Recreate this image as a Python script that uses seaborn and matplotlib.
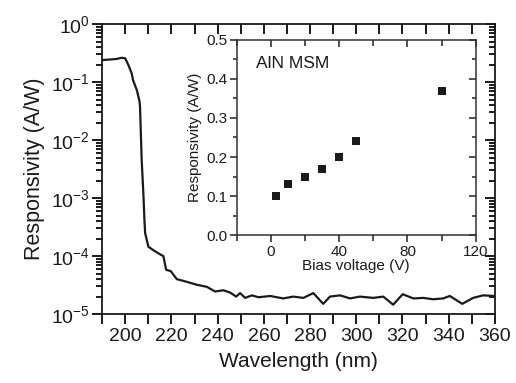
import matplotlib
matplotlib.use("Agg")
import matplotlib.pyplot as plt
import seaborn as sns
from matplotlib.ticker import FixedLocator, NullFormatter

sns.set_theme(style="ticks")
plt.rcParams['font.family'] = ['Liberation Sans', 'DejaVu Sans']
plt.rcParams['mathtext.default'] = 'regular'

# Main spectrum
wavelength = [190, 193, 196, 198.5, 200, 201.4, 202.8, 203.4, 205.0, 206.2, 206.4, 207.1,
              207.9, 208.3, 208.6, 210.0, 212.2, 215.1, 216.5, 217.7, 219.7, 222.3, 226.6,
              231.0, 235.3, 238.9, 242.5, 245.4, 248.0, 249.7, 251.9, 254.8, 257.7, 262.7,
              268.4, 272.7, 277.1, 281.4, 285.7, 288.6, 293.0, 297.3, 301.6, 307.4, 311.7,
              316.0, 320.1, 324.7, 329.0, 333.3, 337.6, 340.5, 345.9, 350.6, 354.9, 360.0]
responsivity = [0.24, 0.245, 0.25, 0.263, 0.257, 0.195, 0.141, 0.107, 0.073, 0.046, 0.037, 4.6e-3,
                1.05e-3, 4.2e-4, 2.5e-4, 1.45e-4, 1.26e-4, 1.07e-4, 1.0e-4, 5.8e-5, 5.5e-5, 4.0e-5, 3.6e-5,
                3.2e-5, 2.95e-5, 2.45e-5, 2.57e-5, 2.35e-5, 2.0e-5, 2.3e-5, 1.9e-5, 2.1e-5, 1.95e-5, 2.05e-5,
                1.86e-5, 2.0e-5, 1.9e-5, 2.3e-5, 1.5e-5, 2.0e-5, 2.1e-5, 1.86e-5, 2.0e-5, 1.9e-5, 2.0e-5,
                1.45e-5, 2.2e-5, 1.86e-5, 1.9e-5, 1.8e-5, 1.86e-5, 2.05e-5, 1.5e-5, 1.9e-5, 2.1e-5, 2.05e-5]

# Inset: responsivity vs bias
bias = [3, 10, 20, 30, 40, 50, 100]
bias_resp = [0.10, 0.13, 0.15, 0.17, 0.20, 0.24, 0.37]

x_ticks = [200, 220, 240, 260, 280, 300, 320, 340, 360]
x_minor = [190, 210, 230, 250, 270, 290, 310, 330, 350]
y_ticks = [1e-5, 1e-4, 1e-3, 1e-2, 1e-1, 1e0]
y_tick_labels = ['$10^{-5}$', '$10^{-4}$', '$10^{-3}$', '$10^{-2}$', '$10^{-1}$', '$10^{0}$']
y_minor = [m * d for d in [1e-5, 1e-4, 1e-3, 1e-2, 1e-1] for m in range(2, 10)]

in_x_ticks = [0, 40, 80, 120]
in_x_minor = [-20, 20, 60, 100]
in_y_ticks = [0.0, 0.1, 0.2, 0.3, 0.4, 0.5]
in_y_labels = ['0.0', '0.1', '0.2', '0.3', '0.4', '0.5']
in_y_minor = [0.05, 0.15, 0.25, 0.35, 0.45]

ink = '#1a1a1a'
gray = '#333333'
fig = plt.figure(figsize=(5.16, 3.83), dpi=100)


def style_ticks(ax, xmaj, xmin, ymaj, ymin, color, width, majlen, minlen, xminlen, log=False):
    """Tick marks drawn from twin axes: outward on bottom/left, inward on top/right."""
    ax.xaxis.set_major_locator(FixedLocator(xmaj))
    ax.yaxis.set_major_locator(FixedLocator(ymaj))
    ax.minorticks_off()
    ax.tick_params(which='both', length=0)
    twins = []
    for side, direction in (('top', 'in'), ('bottom', 'out')):
        t = ax.twiny()
        t.set_xlim(ax.get_xlim())
        t.xaxis.set_major_locator(FixedLocator(xmaj))
        t.xaxis.set_minor_locator(FixedLocator(xmin))
        t.xaxis.set_minor_formatter(NullFormatter())
        t.xaxis.set_ticks_position(side)
        t.tick_params(axis='x', which='both', direction=direction, color=color, width=width,
                      top=(side == 'top'), bottom=(side == 'bottom'),
                      labeltop=False, labelbottom=False)
        t.tick_params(axis='x', which='major', length=majlen)
        t.tick_params(axis='x', which='minor', length=xminlen)
        twins.append(t)
    for side, direction in (('right', 'in'), ('left', 'out')):
        t = ax.twinx()
        if log:
            t.set_yscale('log')
        t.set_ylim(ax.get_ylim())
        t.yaxis.set_major_locator(FixedLocator(ymaj))
        t.yaxis.set_minor_locator(FixedLocator(ymin))
        t.yaxis.set_minor_formatter(NullFormatter())
        t.yaxis.set_ticks_position(side)
        t.tick_params(axis='y', which='both', direction=direction, color=color, width=width,
                      right=(side == 'right'), left=(side == 'left'),
                      labelright=False, labelleft=False)
        t.tick_params(axis='y', which='major', length=majlen)
        t.tick_params(axis='y', which='minor', length=minlen)
        twins.append(t)
    for t in twins:
        t.grid(False)
        for s in t.spines.values():
            s.set_visible(False)


ax = fig.add_axes([0.198, 0.180, 0.761, 0.757])
sns.lineplot(x=wavelength, y=responsivity, ax=ax, color=ink, lw=1.6, sort=False, estimator=None)
ax.set_yscale('log')
ax.set_xlim(190, 360)
ax.set_ylim(1e-5, 1e0)
style_ticks(ax, x_ticks, x_minor, y_ticks, y_minor, ink, 1.4, 7, 4, 7, log=True)
ax.set_yticklabels(y_tick_labels)
ax.tick_params(which='both', labelcolor=ink, labelsize=14)
ax.tick_params(axis='x', pad=10)
ax.tick_params(axis='y', pad=9)
ax.set_xlabel('Wavelength (nm)', fontsize=15, color=ink, labelpad=5)
ax.set_ylabel('Responsivity (A/W)', fontsize=15.5, color=ink, labelpad=4)
for s in ax.spines.values():
    s.set_visible(True)
    s.set_color(ink)
    s.set_linewidth(1.3)

# Inset
ins = fig.add_axes([0.459, 0.386, 0.463, 0.510])
sns.scatterplot(x=bias, y=bias_resp, ax=ins, marker='s', s=30, color=ink, edgecolor=ink, linewidth=0)
ins.set_xlim(-20, 120)
ins.set_ylim(0, 0.5)
style_ticks(ins, in_x_ticks, in_x_minor, in_y_ticks, in_y_minor, gray, 1.2, 5, 3, 4)
ins.set_yticklabels(in_y_labels)
ins.tick_params(which='both', labelcolor=ink, labelsize=11)
ins.tick_params(axis='x', pad=7)
ins.tick_params(axis='y', pad=7)
ins.set_xlabel('Bias voltage (V)', fontsize=11, color=ink, labelpad=0)
ins.set_ylabel('Responsivity (A/W)', fontsize=11, color=ink, labelpad=3)
ins.text(0.08, 0.88, 'AlN MSM', transform=ins.transAxes, fontsize=12.5, color=ink, va='center')
for s in ins.spines.values():
    s.set_visible(True)
    s.set_color(gray)
    s.set_linewidth(1.1)

fig.savefig('out.png', dpi=100)
